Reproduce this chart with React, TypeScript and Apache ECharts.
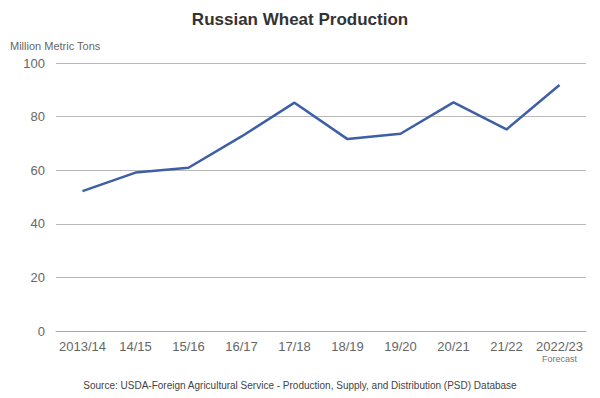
import React, { useEffect, useRef } from "react";
import * as echarts from "echarts";

const categories = ["2013/14", "14/15", "15/16", "16/17", "17/18", "18/19", "19/20", "20/21", "21/22", "2022/23"];
const production = [52.2, 59.1, 60.9, 72.6, 85.2, 71.6, 73.6, 85.3, 75.2, 91.8];
const yTicks = { min: 0, max: 100, interval: 20 };

export default function App() {
  const ref = useRef<HTMLDivElement>(null);
  useEffect(() => {
    const chart = echarts.init(ref.current!, null, { renderer: "svg" });
    const font = "'Liberation Sans', Arial, Helvetica, sans-serif";
    chart.setOption({
      animation: false,
      backgroundColor: "#ffffff",
      textStyle: { fontFamily: font },
      title: [
        {
          text: "Russian Wheat Production",
          left: "center",
          top: 6,
          textStyle: { fontSize: 17, fontWeight: "bold", color: "#333", fontFamily: font },
        },
        {
          text: "Source: USDA-Foreign Agricultural Service - Production, Supply, and Distribution (PSD) Database",
          left: "center",
          top: 375,
          textStyle: { fontSize: 10, fontWeight: "normal", color: "#444", fontFamily: font },
        },
      ],
      grid: { left: 56, right: 14, top: 63, bottom: 67, containLabel: false },
      xAxis: {
        type: "category",
        data: categories,
        boundaryGap: true,
        axisLine: { show: true, lineStyle: { color: "#aaa", width: 1 } },
        axisTick: { show: false },
        axisLabel: {
          color: "#666",
          fontSize: 13,
          margin: 9,
          interval: 0,
          fontFamily: font,
          formatter: (v: string) => (v === "2022/23" ? v + "\n{f|Forecast}" : v),
          rich: { f: { fontSize: 9, color: "#777", lineHeight: 11, fontFamily: font } },
        },
      },
      yAxis: {
        type: "value",
        min: yTicks.min,
        max: yTicks.max,
        interval: yTicks.interval,
        name: "Million Metric Tons",
        nameLocation: "end",
        nameGap: 12,
        nameTextStyle: { color: "#666", fontSize: 11, align: "left", padding: [0, 0, 0, -46], fontFamily: font },
        axisLine: { show: false },
        axisTick: { show: false },
        axisLabel: { color: "#666", fontSize: 13, margin: 11, fontFamily: font },
        splitLine: { lineStyle: { color: "#b8b8b8", width: 1 } },
      },
      series: [
        {
          type: "line",
          data: production,
          symbol: "none",
          lineStyle: { color: "#3d5fa5", width: 2.5 },
          itemStyle: { color: "#3d5fa5" },
        },
      ],
    });
    return () => chart.dispose();
  }, []);
  return <div ref={ref} style={{ width: 600, height: 398, position: "absolute", left: 0, top: 0 }} />;
}
